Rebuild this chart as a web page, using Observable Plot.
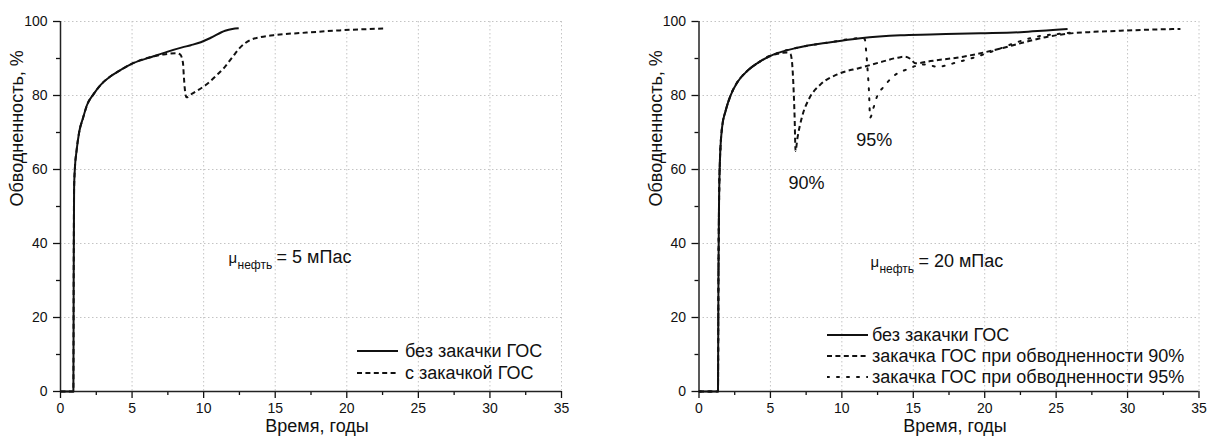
<!DOCTYPE html>
<html><head><meta charset="utf-8">
<script src="https://cdn.jsdelivr.net/npm/d3@7"></script>
<script src="https://cdn.jsdelivr.net/npm/@observablehq/plot@0.6"></script>
<style>
body{margin:0;background:#fff;font-family:"Liberation Sans",Arial,sans-serif;}
#wrap{position:relative;width:1215px;height:442px;overflow:hidden;}
.panel{position:absolute;top:0;}
.row{position:absolute;display:flex;align-items:center;white-space:nowrap;height:22px;font-size:18px;color:#111;}
.row svg{display:block;}
</style></head><body><div id="wrap"></div>
<script>
// ---- Data ----
const xMajor = [0, 5, 10, 15, 20, 25, 30, 35];
const xMinor = [2.5, 7.5, 12.5, 17.5, 22.5, 27.5, 32.5];
const yMajor = [0, 20, 40, 60, 80, 100];
const yMinor = [10, 30, 50, 70, 90];

// Left panel: μ = 5 мПас
const left_noGOS = [[0,0],[0.9,0],[0.92,30],[0.95,55],[1.0,60],[1.12,65],[1.3,70],[1.58,74],[1.86,77.5],[2.3,80.3],[2.79,82.8],[3.5,85.2],[3.95,86.3],[5,88.6],[6.5,90.6],[7.44,91.8],[8.5,93],[9.1,93.6],[9.8,94.4],[10.5,95.6],[11.5,97.5],[12.0,98.0],[12.45,98.2]];
const left_withGOS = [[0,0],[0.9,0],[0.92,30],[0.95,55],[1.0,60],[1.12,65],[1.3,70],[1.58,74],[1.86,77.5],[2.3,80.3],[2.79,82.8],[3.5,85.2],[3.95,86.3],[5,88.6],[6.5,90.6],[7.2,91.1],[8.1,91.4],[8.35,91.1],[8.55,89],[8.62,85],[8.68,82],[8.75,80],[8.8,79.5],[9.2,80.5],[10.24,83.1],[11.0,85.8],[11.5,87.8],[12.0,90.3],[12.56,93.0],[13.26,95.0],[14.0,95.8],[14.88,96.3],[17.2,97.0],[19.5,97.6],[22.56,98.1]];

// Right panel: μ = 20 мПас
const right_noGOS = [[0,0],[1.33,0],[1.36,30],[1.4,50],[1.46,61.9],[1.62,71.5],[1.86,75.8],[2.2,79.9],[2.67,83.5],[3.37,86.6],[4.31,89.3],[5.24,91.1],[6.88,92.9],[9.21,94.4],[11.3,95.5],[14.1,96.3],[16.2,96.5],[19.7,96.8],[22.5,97.1],[23.7,97.4],[25.0,97.8],[25.8,98.0]];
const right_GOS90 = [[0,0],[1.33,0],[1.36,30],[1.4,50],[1.46,61.9],[1.62,71.5],[1.86,75.8],[2.2,79.9],[2.67,83.5],[3.37,86.6],[4.31,89.3],[4.89,90.6],[5.5,91.3],[6.17,91.6],[6.4,91.2],[6.5,89.5],[6.6,83.5],[6.69,74.5],[6.76,65.0],[6.88,68.2],[7.23,74.5],[7.69,79.0],[8.51,83.0],[9.68,85.7],[11.3,87.5],[12.7,89.0],[14.0,90.3],[14.4,90.5],[14.8,89.9],[15.16,88.7],[16.2,89.3],[18.5,90.5],[20.9,92.5],[22.7,94.3],[24.4,95.9],[25.8,96.7],[27.65,97.2],[29.5,97.5],[31.5,97.8],[33.7,98.0]];
const right_GOS95 = [[0,0],[1.33,0],[1.36,30],[1.4,50],[1.46,61.9],[1.62,71.5],[1.86,75.8],[2.2,79.9],[2.67,83.5],[3.37,86.6],[4.31,89.3],[5.24,91.1],[6.88,92.9],[9.21,94.4],[11.3,95.5],[11.6,95.3],[11.7,92],[11.8,87],[11.9,81],[11.98,74.0],[12.2,76.5],[12.48,79.9],[12.94,82.4],[13.64,85.3],[14.58,87.1],[15.74,88.4],[16.7,87.8],[18.08,89.0],[19.2,90.2],[20.6,92.0],[22.5,94.7],[23.9,96.1],[25.1,96.6],[26.0,97.0]];

const labels = {
  noGOS: "без закачки ГОС",
  withGOS: "с закачкой ГОС",
  gos90: "закачка ГОС при обводненности 90%",
  gos95: "закачка ГОС при обводненности 95%"
};
const xTitle = "Время, годы";
const yTitle = "Обводненность, %";
const muLeft = {x: 11.74, y: 34.8, value: "= 5 мПас"};
const muRight = {x: 12.0, y: 33.7, value: "= 20 мПас"};
const dipLabels = ["90%", "95%"];

// ---- Styles ----
const FONT = "Liberation Sans, Arial, sans-serif";
const DASH = "5,3.4";
const DOT = "2,8";
const SOLID = null;

function makePanel({width, marginLeft, marginRight, series, mu, dips}) {
  const frameGrid = {stroke: "#c4c4c4", strokeDasharray: "1.5,2.5", strokeWidth: 1};
  const marks = [
    Plot.ruleX(xMajor.filter(v => v > 0), {...frameGrid}),
    Plot.ruleY(yMajor.filter(v => v > 0), {...frameGrid}),
    Plot.axisY({ticks: yMajor, tickSize: 7, tickPadding: 6, fontSize: 14, label: null, strokeWidth: 1.3}),
    Plot.axisY({ticks: yMinor, tickSize: 4, tickFormat: () => "", label: null, strokeWidth: 1.3}),
    Plot.axisX({ticks: xMajor, tickSize: 7, tickPadding: 5, fontSize: 14, label: null, strokeWidth: 1.3}),
    Plot.axisX({ticks: xMinor, tickSize: 4, tickFormat: () => "", label: null, strokeWidth: 1.3}),
    Plot.ruleX([0], {stroke: "#222", strokeWidth: 1.5}),
    Plot.ruleY([0], {stroke: "#222", strokeWidth: 1.5}),
  ];
  // draw non-solid first, solid last
  const ordered = [...series].sort((a, b) => (a.dash === SOLID) - (b.dash === SOLID));
  for (const s of ordered) {
    marks.push(Plot.line(s.data, {x: d => d[0], y: d => d[1], stroke: "#111", strokeWidth: 2,
      strokeDasharray: s.dash || undefined, curve: "monotone-x", strokeLinecap: s.dash === DOT ? "round" : "butt"}));
  }
  // dip labels anchored at the minimum of the series
  if (dips) {
    for (const dp of dips) {
      const m = d3.least(dp.data.filter(d => d[0] > 3), d => d[1]);
      marks.push(Plot.text([m], {x: d => d[0], y: d => d[1], text: () => dp.label, dx: dp.dx, dy: dp.dy,
        fontSize: 18, fill: "#111"}));
    }
  }
  // μ annotation
  marks.push(
    Plot.text([mu], {x: "x", y: "y", text: () => "μ", textAnchor: "start", lineAnchor: "bottom", fontSize: 15, fill: "#111"}),
    Plot.text([mu], {x: "x", y: "y", text: () => "нефть", textAnchor: "start", lineAnchor: "bottom", dx: 9, dy: 6, fontSize: 12, fill: "#111"}),
    Plot.text([mu], {x: "x", y: "y", text: "value", textAnchor: "start", lineAnchor: "bottom", dx: 48, fontSize: 18, fill: "#111"})
  );
  // axis titles
  marks.push(
    Plot.text([xTitle], {frameAnchor: "bottom", text: d => d, dy: 40, dx: 6, fontSize: 18, fill: "#111"}),
    Plot.text([yTitle], {frameAnchor: "left", text: d => d, rotate: -90, dx: -43, fontSize: 18, fill: "#111"})
  );
  return Plot.plot({
    width, height: 442,
    marginLeft, marginRight, marginTop: 21, marginBottom: 51,
    style: {fontFamily: FONT, fontSize: "14px", color: "#111", background: "white", overflow: "visible"},
    x: {domain: [0, 35], label: null},
    y: {domain: [0, 100], label: null},
    marks
  });
}

function addLegend(wrap, items, {lineLeft, lineWidth, textGap, rowCenters}) {
  items.forEach((it, i) => {
    const row = document.createElement("div");
    row.className = "row";
    row.style.left = lineLeft + "px";
    row.style.top = (rowCenters[i] - 11) + "px";
    row.innerHTML = `<svg width="${lineWidth}" height="6"><line x1="0" x2="${lineWidth}" y1="3" y2="3" stroke="#111" stroke-width="2" ${it.dash ? `stroke-dasharray="${it.dash}"` : ""} ${it.dash === DOT ? 'stroke-linecap="round"' : ""}/></svg><span style="margin-left:${textGap}px">${it.label}</span>`;
    wrap.appendChild(row);
  });
}

const wrap = document.getElementById("wrap");

const leftSeries = [
  {data: left_noGOS, dash: SOLID, label: labels.noGOS},
  {data: left_withGOS, dash: DASH, label: labels.withGOS}
];
const rightSeries = [
  {data: right_noGOS, dash: SOLID, label: labels.noGOS},
  {data: right_GOS90, dash: DASH, label: labels.gos90},
  {data: right_GOS95, dash: DOT, label: labels.gos95}
];

const p1 = makePanel({width: 600, marginLeft: 60, marginRight: 39, series: leftSeries, mu: muLeft});
p1.classList.add("panel"); p1.style.left = "0px";
wrap.appendChild(p1);

const p2 = makePanel({width: 615, marginLeft: 98.5, marginRight: 16.5, series: rightSeries, mu: muRight,
  dips: [{data: right_GOS90, label: dipLabels[0], dx: 11, dy: 32}, {data: right_GOS95, label: dipLabels[1], dx: 4, dy: 23}]});
p2.classList.add("panel"); p2.style.left = "600px";
wrap.appendChild(p2);

addLegend(wrap, leftSeries, {lineLeft: 357, lineWidth: 41, textGap: 7, rowCenters: [351, 373]});
addLegend(wrap, rightSeries, {lineLeft: 827, lineWidth: 41, textGap: 4, rowCenters: [335, 356, 377]});
</script></body></html>
